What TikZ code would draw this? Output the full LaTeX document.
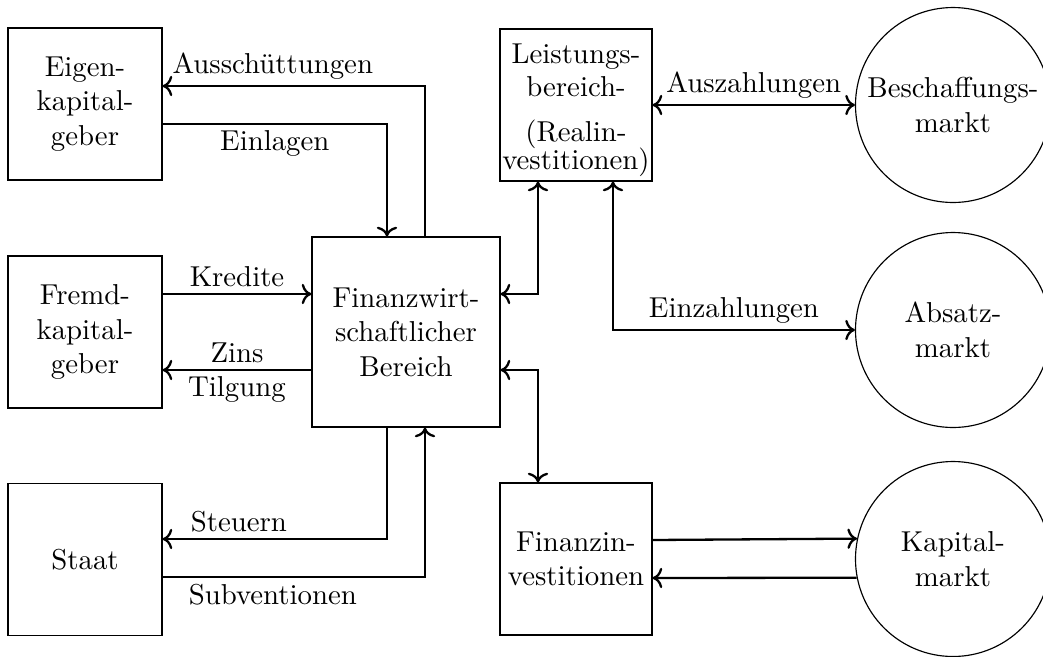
\documentclass[tikz,border=0pt]{standalone}
\usepackage{fontspec}
\usepackage{tikz}
\usetikzlibrary{positioning,calc,arrows.meta}

\begin{document}
\begin{tikzpicture}[
    x=0.3472pt, y=-0.3472pt,
    box/.style={rectangle,draw,align=center,
                minimum width=53.5pt,minimum height=52.8pt,inner sep=2pt},
    rbox/.style={box,minimum width=52.8pt,inner sep=0.5pt},
    bigbox/.style={box,minimum width=65.3pt,minimum height=66pt},
    mkt/.style={circle,draw,align=center,minimum size=67.7pt,inner sep=0pt},
    flow/.style={thick,->},
    dflow/.style={thick,<->},
    lbl/.style={inner sep=2pt},
  ]
    \useasboundingbox (0,0) rectangle (1043,657);

    % capital providers and the state on the left
    \node[box] (ek) at (85,104)   {Eigen-\\kapital-\\geber};
    \node[box] (fm) at (85,332)   {Fremd-\\kapital-\\geber};
    \node[box] (st) at (85,559.5) {Staat};

    % the firm in the middle
    \node[bigbox] (fin) at (406,332) {Finanzwirt-\\schaftlicher\\Bereich};
    \node[rbox] (lb) at (576,105)
        {\rule{0pt}{10.3pt}Leistungs-\\[-0.5pt]bereich-\\[3.6pt](Realin-\\[-2.3pt]vestitionen)};
    \node[rbox] (fi) at (576,559) {Finanzin-\\vestitionen};

    % markets on the right
    \node[mkt] (bm) at (953,105) {Beschaffungs-\\markt};
    \node[mkt] (am) at (953,330) {Absatz-\\markt};
    \node[mkt] (km) at (953,559) {Kapital-\\markt};

    % equity
    \draw[flow] ($(fin.north)+(19,0)$) |- ($(ek.east)+(0,-18)$)
        node[lbl,above,pos=0.79] {Ausschüttungen};
    \draw[flow] ($(ek.east)+(0,20)$) -| ($(fin.north)+(-19,0)$)
        node[lbl,below,pos=0.25] {Einlagen};

    % debt
    \draw[flow] ($(fm.east)+(0,-38)$) -- ($(fin.west)+(0,-38)$)
        node[lbl,above,midway] {Kredite};
    \draw[flow] ($(fin.west)+(0,38)$) -- ($(fm.east)+(0,38)$)
        node[lbl,above,midway] {Zins}
        node[lbl,below,midway] {Tilgung};

    % state
    \draw[flow] ($(fin.south)+(-19,0)$) |- ($(st.east)+(0,-20.5)$)
        node[lbl,above,pos=0.83] {Steuern};
    \draw[flow] ($(st.east)+(0,17.5)$) -| ($(fin.south)+(19,0)$)
        node[lbl,below,pos=0.21] {Subventionen};

    % real and financial investment
    \draw[dflow] ($(fin.east)+(0,-38)$) -| ($(lb.south)+(-38,0)$);
    \draw[dflow] ($(fin.east)+(0,38)$) -| ($(fi.north)+(-38,0)$);
    \draw[dflow] (lb.east) -- (bm.west)
        node[lbl,above,midway] {Auszahlungen};
    \draw[dflow] ($(lb.south)+(37,0)$) |- (am.west)
        node[lbl,above,pos=0.75] {Einzahlungen};

    % capital market
    \draw[flow] ($(fi.east)+(0,-19)$) -- (km.168.7);
    \draw[flow] (km.191.3) -- ($(fi.east)+(0,19)$);
\end{tikzpicture}
\end{document}
